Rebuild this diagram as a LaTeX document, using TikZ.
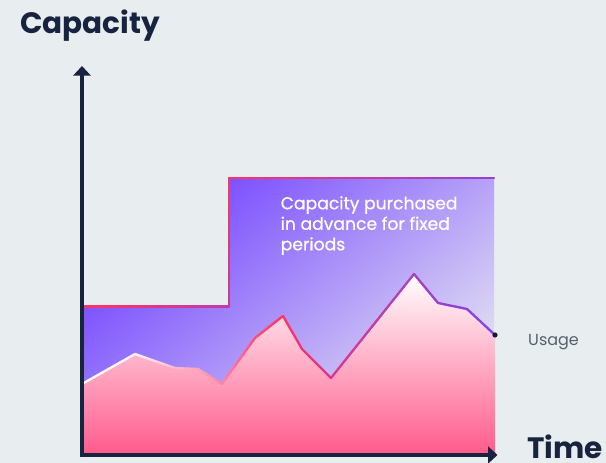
\documentclass[tikz,border=0pt]{standalone}
\usepackage{fontspec}
\setmainfont{Poppins}
\newfontfamily\notefont[FakeBold=0.6]{Poppins}
\usetikzlibrary{arrows.meta}
\definecolor{bg}{HTML}{E8EDF0}
\definecolor{navy}{HTML}{18233F}
\definecolor{deeppurple}{HTML}{7445FF}
\definecolor{lavender}{HTML}{E6E6F2}
\definecolor{pinkred}{HTML}{FF3366}
\definecolor{linepurple}{HTML}{8044EA}
\definecolor{pinkbot}{HTML}{FF5A8C}
\definecolor{pinkmid}{HTML}{FFB4C9}
\definecolor{usagegrey}{HTML}{56606C}
% colour along the scale: 0 = white, 100 = pinkred, 200 = linepurple
\newcommand{\scalecol}[1]{%
  \ifnum#1>100\relax
    \pgfmathtruncatemacro{\qq}{#1-100}%
    \colorlet{segc}{linepurple!\qq!pinkred}%
  \else
    \colorlet{segc}{pinkred!#1!white}%
  \fi}
% gradient segment: x1,y1,x2,y2,p1,p2
\newcommand{\gradseg}[7][uline]{%
  \foreach \k in {0,...,7}{%
    \pgfmathsetmacro{\xa}{#2+(#4-#2)*\k/8}%
    \pgfmathsetmacro{\ya}{#3+(#5-#3)*\k/8}%
    \pgfmathsetmacro{\xb}{#2+(#4-#2)*(\k+1)/8}%
    \pgfmathsetmacro{\yb}{#3+(#5-#3)*(\k+1)/8}%
    \pgfmathtruncatemacro{\pp}{#6+(#7-#6)*(\k+0.5)/8}%
    \scalecol{\pp}%
    \draw[#1, draw=segc] (\xa,\ya) -- (\xb,\yb);
  }}
\begin{document}
\begin{tikzpicture}[x=1pt,y=-1pt,
  uline/.style={line width=2.3pt, line cap=round, line join=round},
  sline/.style={line width=2.2pt, line cap=round},
  axisline/.style={navy, line width=3.4pt, -{Triangle[width=17pt,length=9.5pt]}},
  titletext/.style={font=\bfseries\fontsize{29.5}{36}\selectfont, text=navy, inner sep=0pt, anchor=base west},
  notetext/.style={font=\notefont\fontsize{17.2}{20.5}\selectfont, text=white, inner sep=0pt, anchor=north west, align=left},
  labeltext/.style={font=\fontsize{16}{18}\selectfont, text=usagegrey, inner sep=0pt, anchor=base west}]
\fill[bg] (0,0) rectangle (606,463);
\useasboundingbox (0,0) rectangle (606,463);

% capacity region
\shade[top color=deeppurple, bottom color=lavender, shading angle=40]
  (82,306.5) -- (229,306.5) -- (229,178) -- (494,178) -- (494,455) -- (82,455) -- cycle;

% usage region
\shade[top color=white, middle color=pinkmid, bottom color=pinkbot]
  (82,384) -- (135,354) -- (175,368) -- (198,369) -- (222,384) -- (255,338) -- (283,316)
  -- (302,349) -- (331,378) -- (414,274) -- (438,303) -- (467,309) -- (495,335)
  -- (495,455) -- (82,455) -- cycle;

% capacity line
\gradseg[sline]{82}{306.5}{229}{306.5}{100}{150}
\gradseg[sline]{229}{306.5}{229}{178}{150}{100}
\gradseg[sline]{229}{178}{494}{178}{100}{185}

% usage line
\gradseg{82}{384}{135}{354}{0}{6}
\gradseg{135}{354}{175}{368}{6}{35}
\gradseg{175}{368}{198}{369}{35}{45}
\gradseg{198}{369}{222}{384}{45}{60}
\gradseg{222}{384}{255}{338}{60}{88}
\gradseg{255}{338}{283}{316}{88}{100}
\gradseg{283}{316}{302}{349}{100}{115}
\gradseg{302}{349}{331}{378}{115}{130}
\gradseg{331}{378}{414}{274}{130}{165}
\gradseg{414}{274}{438}{303}{165}{180}
\gradseg{438}{303}{467}{309}{180}{190}
\gradseg{467}{309}{495}{335}{190}{200}

\coordinate (usageend) at (495,335);
\fill[navy!80!black] (usageend) circle (2.6pt);

% axes
\coordinate (ybottom) at (82,457);
\coordinate (ytip) at (82,66);
\coordinate (xleft) at (80.3,455);
\coordinate (xtip) at (497.5,455);
\draw[axisline] (ybottom) -- (ytip);
\draw[axisline] (xleft) -- (xtip);

% texts
\node[titletext] (ylabel) at (20,33) {Capacity};
\node[titletext] (xlabel) at (527,458.5) {Time};
\node[notetext] (note) at (280.5,196) {Capacity purchased\\in advance for fixed\\periods};
\node[labeltext] (usage) at (528,345) {Usage};
\end{tikzpicture}
\end{document}
